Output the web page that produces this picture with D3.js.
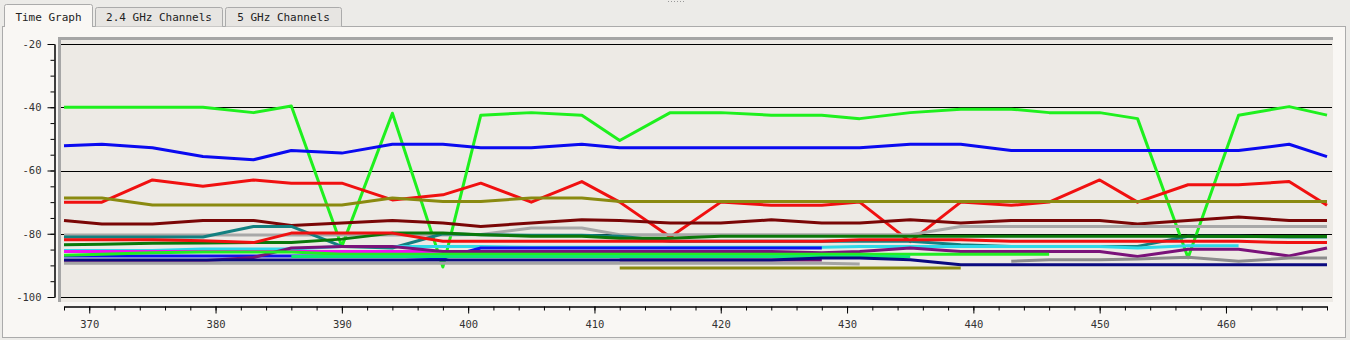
<!DOCTYPE html>
<html>
<head>
<meta charset="utf-8">
<script src="https://cdn.jsdelivr.net/npm/d3@7"></script>
<style>
  body { margin: 0; background: #ecebe8; }
  svg { display: block; }
  text { font-family: "DejaVu Sans Mono", monospace; fill: #333; }
</style>
</head>
<body>
<svg width="1350" height="340"></svg>
<script>
// sample times (x axis)
var times = [368,371,375,379,383,386,390,394,398,401,405,409,412,416,420,424,428,431,435,439,443,446,450,453,457,461,465,468];

// signal levels per access point, null = not seen
var lime = [-40,-40,-40,-40,-41.7,-39.6,-84,-41.9,-90.5,-42.5,-41.7,-42.5,-50.5,-41.7,-41.7,-42.5,-42.5,-43.6,-41.7,-40.6,-40.6,-41.7,-41.7,-43.6,-87.6,-42.5,-39.8,-42.5];
var blue = [-52.2,-51.7,-52.8,-55.6,-56.6,-53.7,-54.5,-51.7,-51.7,-52.8,-52.8,-51.7,-52.8,-52.8,-52.8,-52.8,-52.8,-52.8,-51.7,-51.7,-53.7,-53.7,-53.7,-53.7,-53.7,-53.7,-51.7,-55.6];
var red = [-70,-70,-63,-65,-63,-64,-64,-69.3,-67.7,-64,-70,-63.5,-70,-81,-70,-71,-71,-70,-82.5,-70,-71,-70,-63,-70,-64.5,-64.5,-63.5,-71];
var olive = [-68.7,-68.7,-70.9,-70.9,-70.9,-70.9,-70.9,-68.7,-69.8,-69.8,-68.7,-68.7,-69.8,-69.8,-69.8,-69.8,-69.8,-69.8,-69.8,-69.8,-69.8,-69.8,-69.8,-69.8,-69.8,-69.8,-69.8,-69.8];
var maroon = [-75.8,-76.9,-76.9,-75.8,-75.8,-77.4,-76.6,-75.8,-76.6,-77.7,-76.6,-75.6,-75.8,-76.6,-76.6,-75.6,-76.6,-76.6,-75.6,-76.6,-75.8,-75.8,-75.8,-76.9,-75.8,-74.7,-75.8,-75.8];
var grayA = [-80.4,-80.4,-80.4,-80.4,-80.4,-80.4,-80.4,-80.4,-80.4,-80.2,-78.2,-78.2,-80.3,-80.3,-80.3,-80.3,-80.3,-80.3,-80.3,-77.7,-77.7,-77.7,-77.7,-77.7,-77.7,-77.7,-77.7,-77.7];
var teal = [-81,-81,-81,-81,-77.7,-77.7,-84,-84.5,-80,-80.3,-80.5,-80.5,-80.8,-82.4,-82.4,-82.4,-82.4,-82.4,-82.4,-83.5,-84,-84,-84,-84,-80.8,-80.8,-81,-81];
var darkGreen = [-83.5,-83.3,-83,-82.9,-82.8,-82.8,-81.7,-79.8,-79.8,-80.3,-80.8,-80.8,-81.4,-81.4,-80.8,-80.8,-80.8,-80.8,-80.8,-80.8,-80.8,-80.8,-80.8,-80.8,-80.8,-80.9,-80.9,-80.9];
var red2 = [-81.9,-81.9,-81.9,-82.2,-82.8,-79.8,-79.8,-79.8,-82.4,-82.4,-82.4,-82.4,-82.4,-82.4,-82.4,-82.4,-82.4,-81.9,-81.9,-81.9,-82.4,-82.4,-82.4,-82.4,-82.4,-82.4,-82.8,-82.8];
var magenta = [-85.6,-85.6,-85.6,-85.6,-85.6,-85.6,-85.6,-85.6,-85.6,null,null,null,null,null,null,null,null,null,null,null,null,null,null,null,null,null,null,null];
var cyan = [-85.3,-85.3,-85.3,-84.8,-84.8,-84.8,-84,-84,-84,-84,-84.3,-84.3,-84.3,-84.3,-84.3,-84.3,-84.3,-84,-84,-84,-84,-84,-84,-84.5,-83.8,-83.8,null,null];
var blue2 = [-87,-87,-87,-87,-87,-87,-87,-87,-87.7,-84.5,-84.5,-84.5,-84.5,-84.5,-84.5,-84.5,-84.5,null,null,null,null,null,null,null,null,null,null,null];
var purple = [-88.5,-88.5,-88.5,-88.5,-87.5,-84.5,-84,-84,-85.6,-85.6,-85.6,-85.6,-85.6,-85.6,-85.6,-85.6,-86,-85.6,-84.5,-85.6,-85.6,-85.6,-85.6,-87.2,-84.9,-84.9,-87,-84.5];
var lime2 = [-86.8,-86.5,-86,-85.8,-85.8,-85.8,-86.5,-86.5,-86.5,-86.5,-86.5,-86.5,-86.5,-86.5,-86.5,-86.5,-86.5,-86.5,-86.5,-86.5,-86.5,-86.5,null,null,null,null,null,null];
var springGreen = [null,null,null,null,null,-87.2,-87.2,-87.2,-87.2,-87.2,-87.2,-87.2,-87.2,-87.2,-87.2,-87.2,-87.2,-87.2,-87.2,null,null,null,null,null,null,null,null,null];
var darkMagenta = [null,null,null,null,null,null,null,null,null,null,null,null,-88.3,-88.3,-88.3,-88.3,-88.3,null,null,null,null,null,null,null,null,null,null,null];
var navy = [-88.3,-88.3,-88.3,-88.3,-88.3,-88.3,-88.3,-88.3,-88.3,-88.3,-88.3,-88.3,-88.3,-88.3,-88.3,-88.3,-87.7,-87.7,-88.2,-89.8,-89.8,-89.8,-89.8,-89.8,-89.8,-89.8,-89.8,-89.8];
var gray2 = [-89.3,-89.3,-89.3,-89.3,-89.3,-89.3,-89.3,-89.3,-89.3,-89.3,-89.3,-89.3,-89.3,-89.3,-89.3,-89.3,-89.3,-89.6,null,null,null,null,null,null,null,null,null,null];
var darkGray = [null,null,null,null,null,null,null,null,null,null,null,null,null,null,null,null,null,null,null,null,-88.7,-88.2,-88.2,-88,-87.4,-88.7,-87.7,-87.7];
var olive2 = [null,null,null,null,null,null,null,null,null,null,null,null,-90.8,-90.8,-90.8,-90.8,-90.8,-90.8,-90.8,-90.8,null,null,null,null,null,null,null,null];

var seriesList = [lime, blue, red, olive, maroon, grayA, teal, darkGreen, red2, cyan, magenta, blue2, purple, lime2, springGreen, darkMagenta, navy, gray2, darkGray, olive2];
var colors = ["#1ef01e","#0a0af0","#f01010","#8a8a10","#7a0606","#a8a8a8","#138080","#0a780a","#f01010","#30d8e8","#f010f0","#1010e8","#7a127a","#22ee22","#10e870","#6e106e","#0a0a80","#a4a4a4","#8c8c8c","#8a8a10"];

var yTicks = [-20, -40, -60, -80, -100];
var xTicks = [370, 380, 390, 400, 410, 420, 430, 440, 450, 460];

var svg = d3.select("svg");

// splitter grip
svg.selectAll(".grip").data([0,1,2,3,4,5]).enter().append("rect")
  .attr("x", function(d){ return 668 + d*3 }).attr("y", 1).attr("width", 1).attr("height", 1)
  .attr("fill", "#999");

// panel
svg.append("rect").attr("x", 2.5).attr("y", 26.5).attr("width", 1343).attr("height", 311)
  .attr("fill", "#f9f7f4").attr("stroke", "#ababab");

// tabs
var tabs = [
  {label: "Time Graph", x0: 4, x1: 93, top: 4, sel: true},
  {label: "2.4 GHz Channels", x0: 95, x1: 223, top: 7, sel: false},
  {label: "5 GHz Channels", x0: 225, x1: 342, top: 7, sel: false}
];
tabs.forEach(function(t){
  svg.append("path")
    .attr("d", "M" + (t.x0+0.5) + "," + (t.sel ? 27 : 26.5) + "V" + (t.top+2.5) + "Q" + (t.x0+0.5) + "," + (t.top+0.5) + " " + (t.x0+2.5) + "," + (t.top+0.5) +
               "H" + (t.x1-2.5) + "Q" + (t.x1-0.5) + "," + (t.top+0.5) + " " + (t.x1-0.5) + "," + (t.top+2.5) + "V" + (t.sel ? 27 : 26.5))
    .attr("fill", t.sel ? "#f9f7f4" : "#e7e5e2")
    .attr("stroke", "#ababab");
  svg.append("text").attr("x", (t.x0 + t.x1)/2).attr("y", 21)
    .attr("text-anchor", "middle").style("font-size", "11px").style("fill", "#222")
    .text(t.label);
});
// hide panel top border under the selected tab
svg.append("line").attr("x1", 5).attr("x2", 92).attr("y1", 26.5).attr("y2", 26.5)
  .attr("stroke", "#f9f7f4");

// scales
var x = d3.scaleLinear().domain([368, 468]).range([64, 1327]);
var y = d3.scaleLinear().domain([-100, -20]).range([297, 44]);

// plot area
svg.append("rect").attr("x", 58).attr("y", 37).attr("width", 1275).attr("height", 265).attr("fill", "#edeae5");
svg.append("path").attr("d", "M59.5,302V38.5H1333").attr("fill", "none").attr("stroke", "#a6a6a6").attr("stroke-width", 3);

// horizontal grid lines
svg.append("g").selectAll("line").data(yTicks).enter().append("line")
  .attr("x1", 61).attr("x2", 1332)
  .attr("y1", function(d){ return Math.round(y(d)) + 0.5 })
  .attr("y2", function(d){ return Math.round(y(d)) + 0.5 })
  .attr("stroke", "#000").attr("stroke-width", 1);

// lines
svg.append("clipPath").attr("id", "clip").append("rect")
  .attr("x", 61).attr("y", 40).attr("width", 1270).attr("height", 261);

var line = d3.line()
  .defined(function(d){ return d[1] != null })
  .x(function(d){ return x(d[0]) })
  .y(function(d){ return y(d[1]) });

svg.append("g").attr("clip-path", "url(#clip)")
  .selectAll("path")
  .data(seriesList)
  .enter()
  .append("path")
    .attr("d", function(vals){ return line(vals.map(function(v, i){ return [times[i], v] })) })
    .attr("fill", "none")
    .attr("stroke", function(d, i){ return colors[i] })
    .attr("stroke-width", 3)
    .attr("stroke-linejoin", "round");

// y axis (plain hyphen minus like the original)
svg.append("g").attr("transform", "translate(54.5,0)")
  .call(d3.axisLeft(y).tickValues(d3.range(-100, -19, 5)).tickSize(4).tickSizeOuter(0).tickFormat(""));
svg.append("g").attr("transform", "translate(54.5,0)")
  .call(d3.axisLeft(y).tickValues(yTicks).tickSize(7).tickSizeOuter(0).tickPadding(6)
    .tickFormat(function(d){ return String(d) }));

// x axis
svg.append("g").attr("transform", "translate(0,306.5)")
  .call(d3.axisBottom(x).tickValues(d3.range(368, 469, 2)).tickSize(4).tickSizeOuter(0).tickFormat(""));
svg.append("g").attr("transform", "translate(0,306.5)")
  .call(d3.axisBottom(x).tickValues(xTicks).tickSize(7).tickSizeOuter(0).tickPadding(7)
    .tickFormat(function(d){ return String(d) }));

svg.selectAll(".domain").attr("stroke", "#000");
svg.selectAll(".tick line").attr("stroke", "#000");
svg.selectAll(".tick text").style("font-size", "10.5px").style("font-family", "DejaVu Sans Mono").attr("fill", "#333");
</script>
</body>
</html>
